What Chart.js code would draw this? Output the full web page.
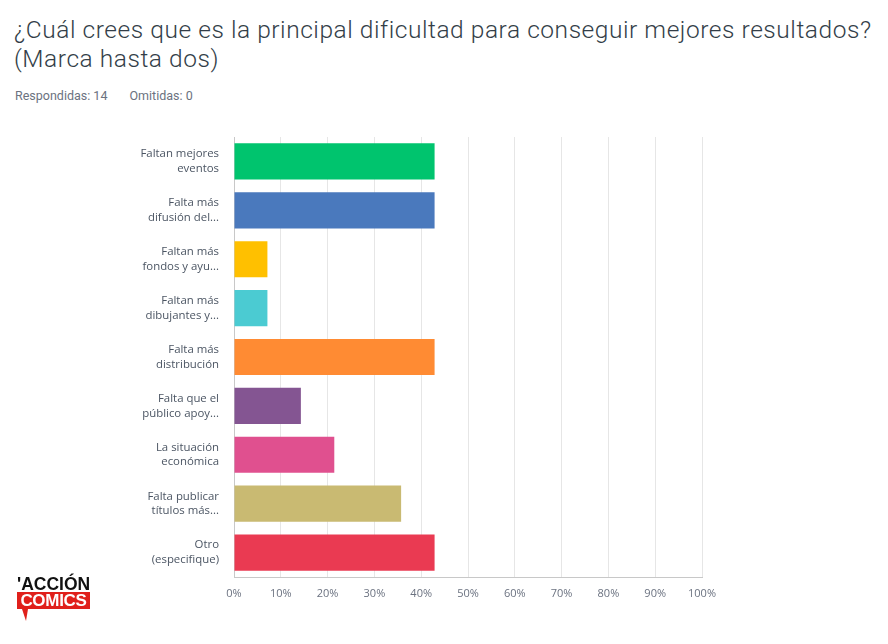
<!DOCTYPE html>
<html>
<head>
<meta charset="utf-8">
<script src="https://cdn.jsdelivr.net/npm/chart.js@4"></script>
<style>
  html, body { margin: 0; padding: 0; background: #fff; }
  body { width: 888px; height: 644px; position: relative; overflow: hidden; font-family: Roboto, "Open Sans", sans-serif; }
  #title { position: absolute; left: 14px; top: 15px; font-size: 24.5px; font-weight: 300; color: #333e48; line-height: 29px; letter-spacing: 0.55px; white-space: nowrap; }
  #sub { position: absolute; left: 15px; top: 88px; font-size: 12.5px; color: #6b7280; }
  #sub span { margin-right: 19px; }
  #wrap { position: absolute; left: 0; top: 0; width: 888px; height: 644px; }
  #logo { position: absolute; left: 17px; top: 576px; width: 76px; height: 48px; font-family: "Liberation Sans", Arial, sans-serif; }
  #logo .a { position: absolute; left: 0; top: 0; font-size: 17.5px; line-height: 17px; color: #111; letter-spacing: 0px; font-weight: bold; }
  #logo .c { position: absolute; left: 0; top: 16px; width: 73px; height: 17px; background: #e0201b; color: #fff; font-size: 17px; line-height: 18px; text-align: center; font-weight: bold; letter-spacing: -0.3px; }
  #logo .t { position: absolute; left: 5px; top: 33px; width: 0; height: 0; border-left: 4px solid transparent; border-right: 2px solid transparent; border-top: 12px solid #e0201b; }
</style>
</head>
<body>
<div id="title">¿Cuál crees que es la principal dificultad para conseguir mejores resultados?<br>(Marca hasta dos)</div>
<div id="sub"><span>Respondidas: 14</span> Omitidas: 0</div>
<div id="wrap"><canvas id="c" width="888" height="644"></canvas></div>
<div id="logo"><div class="a">'ACCIÓN</div><div class="c">COMICS</div><div class="t"></div></div>
<script>
const categories = [
  ["Faltan mejores", "eventos"],
  ["Falta más", "difusión del..."],
  ["Faltan más", "fondos y ayu..."],
  ["Faltan más", "dibujantes y..."],
  ["Falta más", "distribución"],
  ["Falta que el", "público apoy..."],
  ["La situación", "económica"],
  ["Falta publicar", "títulos más..."],
  ["Otro", "(especifique)"]
];
const values = [42.86, 42.86, 7.14, 7.14, 42.86, 14.29, 21.43, 35.71, 42.86];
const barColors = ["#00c46e", "#4a79bd", "#ffc000", "#4bcbd2", "#ff8b33", "#845592", "#e0508f", "#c9ba72", "#ea3a52"];
const xTicks = [0, 10, 20, 30, 40, 50, 60, 70, 80, 90, 100];

new Chart(document.getElementById('c'), {
  type: 'bar',
  data: {
    labels: categories,
    datasets: [{
      data: values,
      backgroundColor: barColors,
      borderWidth: 0,
      categoryPercentage: 1,
      barPercentage: 0.74
    }]
  },
  options: {
    indexAxis: 'y',
    responsive: false,
    animation: false,
    layout: { padding: { left: 0, top: 137, right: 186, bottom: 37 } },
    plugins: { legend: { display: false }, tooltip: { enabled: false }, title: { display: false } },
    scales: {
      x: {
        min: 0, max: 100,
        afterBuildTicks: (s) => { s.ticks = xTicks.map(v => ({ value: v })); },
        afterFit: (s) => { s.height = 30; },
        grid: { color: '#e6e6e6', lineWidth: 1, drawTicks: false },
        border: { color: '#c8c8c8', width: 1 },
        ticks: { padding: 10, color: '#6b7280', font: { family: 'Open Sans', size: 11 }, callback: (v) => v + '%', maxRotation: 0 }
      },
      y: {
        afterFit: (s) => { s.width = 234; },
        grid: { display: false, drawTicks: false },
        border: { color: '#c8c8c8', width: 1 },
        ticks: { padding: 15, color: '#4b5563', font: { family: 'Open Sans', size: 11.4, lineHeight: 1.3 } }
      }
    }
  }
});
</script>
</body>
</html>
